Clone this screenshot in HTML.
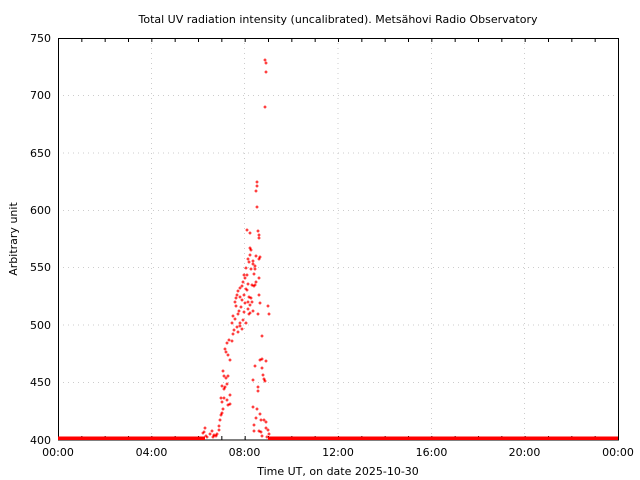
<!DOCTYPE html>
<html><head><meta charset="utf-8"><style>
body{margin:0;background:#fff;}
svg{display:block;font-family:"DejaVu Sans","Liberation Sans",sans-serif;font-size:11px;}
</style></head><body>
<svg id="s" width="640" height="480" xmlns="http://www.w3.org/2000/svg">
<rect width="640" height="480" fill="#fff"/>
<g stroke="#ccc" stroke-dasharray="1,4" stroke-width="1">
<line x1="58" x2="618" y1="95.5" y2="95.5"/><line x1="58" x2="618" y1="153" y2="153"/>
<line x1="58" x2="618" y1="210.5" y2="210.5"/><line x1="58" x2="618" y1="267.5" y2="267.5"/>
<line x1="58" x2="618" y1="325" y2="325"/><line x1="58" x2="618" y1="382.5" y2="382.5"/>
<line x1="151.5" x2="151.5" y1="38" y2="440"/><line x1="244.5" x2="244.5" y1="38" y2="440"/>
<line x1="338" x2="338" y1="38" y2="440"/><line x1="431.5" x2="431.5" y1="38" y2="440"/>
<line x1="524.5" x2="524.5" y1="38" y2="440"/>
</g>
<g id="ticks" stroke="#000" stroke-width="1"></g>
<rect x="58.5" y="38.5" width="560" height="401.5" fill="none" stroke="#000"/>
<g fill="#000" text-anchor="end">
<text x="51" y="42">750</text><text x="51" y="99">700</text><text x="51" y="157">650</text>
<text x="51" y="214">600</text><text x="51" y="271">550</text><text x="51" y="329">500</text>
<text x="51" y="386">450</text><text x="51" y="444">400</text>
</g>
<g fill="#000" text-anchor="middle">
<text x="58" y="456">00:00</text><text x="151.5" y="456">04:00</text><text x="244.5" y="456">08:00</text>
<text x="338" y="456">12:00</text><text x="431.5" y="456">16:00</text><text x="524.5" y="456">20:00</text>
<text x="618" y="456">00:00</text>
<text x="338" y="475">Time UT, on date 2025-10-30</text>
<text x="338" y="23">Total UV radiation intensity (uncalibrated). Metsähovi Radio Observatory</text>
<text transform="translate(17,239) rotate(-90)">Arbitrary unit</text>
</g>
<rect x="58" y="436.5" width="147" height="3.5" fill="#f00"/>
<rect x="268" y="436.5" width="350" height="3.5" fill="#f00"/>
<path id="pts" stroke="#f00" stroke-width="1" fill="none"/>
</svg>
<script>
var t='';for(var h=1;h<24;h++){var x=58.5+h*560/24;t+='<line x1="'+x+'" x2="'+x+'" y1="38" y2="42"/><line x1="'+x+'" x2="'+x+'" y1="440" y2="436"/>';}
document.getElementById('ticks').innerHTML=t;
var P=[[265,60],[266,63],[266,72],[265,107],[257,182],[257,186],[256,191],[257,207],[258,231],[259,235],[259,238],[250,248],[256,256],[260,257],[253,261],[251,269],[259,259],[253,264],
[205,428],[204,432],[206,436],[210,434],[212,431],[214,435],[217,434],[219,430],[219,426],[220,420],[221,415],[222,413],[223,409],[222,402],[221,398],[224,398],[227,400],[228,405],[230,404],[230,395],[227,384],[226,378],[228,376],[222,386],[224,389],[225,387],[223,371],[224,376],[230,360],[228,355],[226,352],[225,349],[227,343],[229,340],[232,341],[233,334],[234,330],[232,323],[235,319],[233,316],[238,314],[240,323],[244,312],[245,303],[236,306],[235,302],[240,297],[236,298],[237,295],[238,291],[240,288],[242,286],[243,282],[245,278],[247,275],[244,275],[246,268],[249,262],[248,259],[250,255],[251,250],[250,233],[247,230],[248,284],[242,300],[246,289],[239,311],[241,307],[244,295],[247,290],[249,297],[251,298],[248,302],[250,305],[252,302],[246,323],[254,274],[252,285],[256,282],[259,295],[259,278],[255,285],[258,314],[262,336],[262,359],[265,381],[266,361],[263,375],[262,368],[257,409],[260,414],[261,420],[264,420],[259,431],[262,436],[261,432],[256,418],[258,387],[253,407],[254,431],[258,391],[254,425],[253,380],[255,366],[260,360],[264,379],[266,422],[268,430],[266,428],[267,437],[269,434],[268,306],[269,314],[260,303],[253,311],[254,286],[248,309],[237,327],[238,332],[242,329],[240,326],[243,320],[249,314],[250,313],[255,266],[255,269],[203,433],[207,437],[213,437],[216,436]];
var d='';P.forEach(function(p){d+='M'+(p[0]-1.5)+' '+p[1]+'h3M'+p[0]+' '+(p[1]-1.5)+'v3';});
document.getElementById('pts').setAttribute('d',d);
</script>
</body></html>
